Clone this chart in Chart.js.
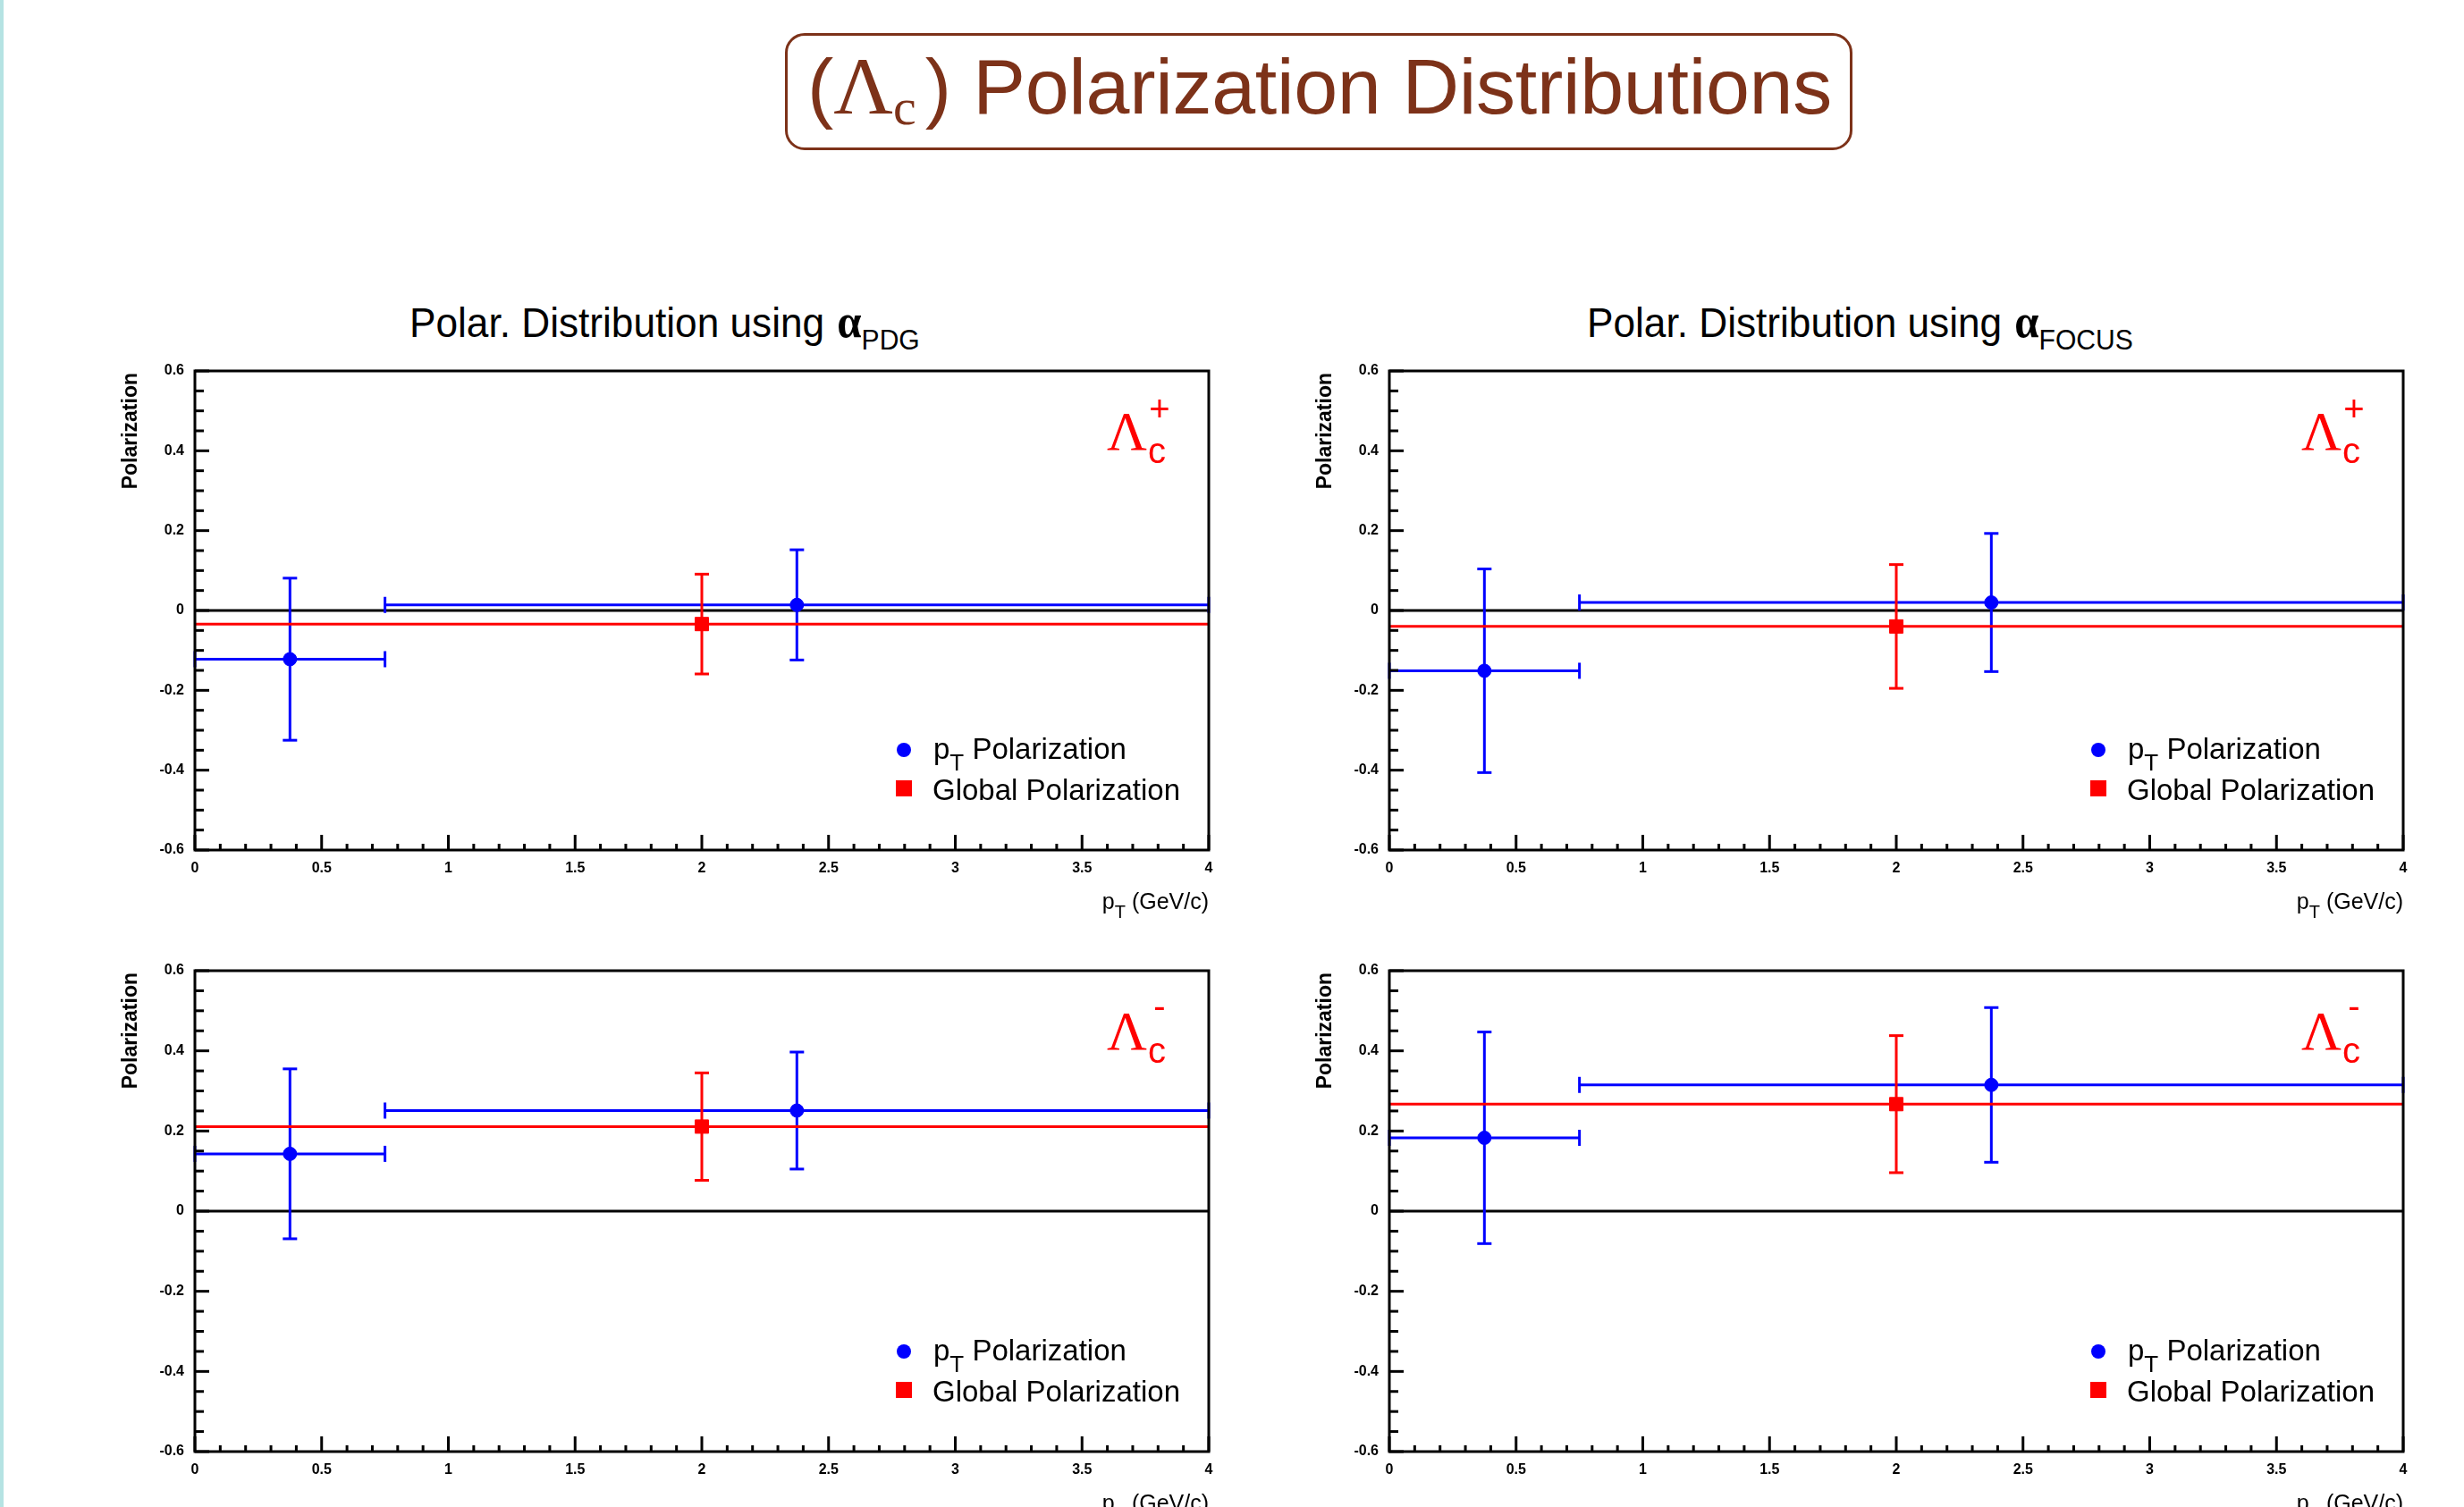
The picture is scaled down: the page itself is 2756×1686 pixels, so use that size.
<!DOCTYPE html>
<html>
<head>
<meta charset="utf-8">
<script src="https://cdn.jsdelivr.net/npm/chart.js@4.4.1/dist/chart.umd.min.js"></script>
<style>
html, body { margin: 0; padding: 0; background: #fff; }
body { width: 2756px; height: 1686px; position: relative; overflow: hidden;
       font-family: "Liberation Sans", Arial, sans-serif; }
#strip { position: absolute; left: 0; top: 0; width: 4px; height: 1686px; background: #b5e3e3; }
#titleBox { position: absolute; left: 878px; top: 37px; width: 1194px; height: 131px;
            box-sizing: border-box; border: 3px solid #7d3219; border-radius: 22px; }
#title { position: absolute; left: 903px; top: 52px; font-size: 88px; line-height: 88px;
         color: #7d3219; white-space: nowrap; }
#title .lam { font-family: "Liberation Serif", "Times New Roman", serif; font-size: 92px; }
#title .csub { font-family: "Liberation Serif", "Times New Roman", serif; font-size: 58px;
               position: relative; top: 12px; }
#title .close { margin-left: 10px; }
#title .words { letter-spacing: -0.3px; }
.sub { position: absolute; top: 336px; font-size: 47px; line-height: 47px; color: #000;
       white-space: nowrap; transform: scaleX(0.94); transform-origin: 0 0; }
.sub .alpha { font-family: "Liberation Serif", "Times New Roman", serif; font-size: 52px;
              font-weight: bold; margin-left: 2px; }
.sub .asub { font-size: 32px; position: relative; top: 14px; }
canvas { position: absolute; }
</style>
</head>
<body>
<div id="strip"></div>
<div id="titleBox"></div>
<div id="title"><span>(</span><span class="lam">Λ</span><span class="csub">c</span><span class="close">)</span><span class="words"> Polarization Distributions</span></div>
<div class="sub" style="left:458px"><span>Polar. Distribution using </span><span class="alpha">α</span><span class="asub">PDG</span></div>
<div class="sub" style="left:1775px"><span>Polar. Distribution using </span><span class="alpha">α</span><span class="asub">FOCUS</span></div>

<canvas id="pdgPlus" width="1274" height="646" style="left:108px;top:385px"></canvas>
<canvas id="focusPlus" width="1274" height="646" style="left:1444px;top:385px"></canvas>
<canvas id="pdgMinus" width="1274" height="648" style="left:108px;top:1056px"></canvas>
<canvas id="focusMinus" width="1274" height="648" style="left:1444px;top:1056px"></canvas>

<script>
// DATA

// pT bins (GeV/c)
const ptBinLow = [0, 0.75];
const ptBinHigh = [0.75, 4];
const ptBinCenter = [0.375, 2.375];
const globalPt = [2];

// alpha_PDG, Lambda_c+
const pdgPlusPol = [-0.122, 0.014];
const pdgPlusErr = [0.203, 0.138];
const pdgPlusGlobal = [-0.034];
const pdgPlusGlobalErr = [0.125];

// alpha_FOCUS, Lambda_c+
const focusPlusPol = [-0.151, 0.020];
const focusPlusErr = [0.255, 0.173];
const focusPlusGlobal = [-0.040];
const focusPlusGlobalErr = [0.155];

// alpha_PDG, Lambda_c-
const pdgMinusPol = [0.143, 0.251];
const pdgMinusErr = [0.212, 0.146];
const pdgMinusGlobal = [0.211];
const pdgMinusGlobalErr = [0.134];

// alpha_FOCUS, Lambda_c-
const focusMinusPol = [0.183, 0.315];
const focusMinusErr = [0.264, 0.193];
const focusMinusGlobal = [0.267];
const focusMinusGlobalErr = [0.171];

// axes
const xTicks = [0, 0.5, 1, 1.5, 2, 2.5, 3, 3.5, 4];
const xTickLabels = ["0", "0.5", "1", "1.5", "2", "2.5", "3", "3.5", "4"];
const yTicks = [-0.6, -0.4, -0.2, 0, 0.2, 0.4, 0.6];
const yTickLabels = ["-0.6", "-0.4", "-0.2", "0", "0.2", "0.4", "0.6"];
const legendLabels = ["p_T Polarization", "Global Polarization"];
const xTitle = "p_T (GeV/c)";
const yTitle = "Polarization";


// STYLE

const BLUE = "#0000ff";
const RED = "#ff0000";
const SANS = '"Liberation Sans", Arial, sans-serif';
const SERIF = '"Liberation Serif", "Times New Roman", serif';
const AXIS_W = 110, AXIS_H = 80, PAD_T = 30, PAD_R = 30;


// text with one-letter subscripts written as _X
function drawRich(ctx, text, x, y, size, align) {
    const parts = [];
    text.split(/(_\w)/).forEach(p => {
        if (!p) return;
        if (p[0] === "_") parts.push({ t: p.slice(1), sub: true });
        else parts.push({ t: p, sub: false });
    });
    const fontFor = sub => `${sub ? Math.round(size * 0.8) : size}px ${SANS}`;
    let w = 0;
    parts.forEach(p => {
        ctx.font = fontFor(p.sub);
        p.w = ctx.measureText(p.t).width;
        w += p.w;
    });
    let cx = align === "right" ? x - w : x;
    ctx.textAlign = "left";
    ctx.textBaseline = "alphabetic";
    parts.forEach(p => {
        ctx.font = fontFor(p.sub);
        ctx.fillText(p.t, cx, y + (p.sub ? size * 0.38 : 0));
        cx += p.w;
    });
}

function seg(ctx, x1, y1, x2, y2) {
    ctx.beginPath();
    ctx.moveTo(x1, y1);
    ctx.lineTo(x2, y2);
    ctx.stroke();
}


// ROOT-LIKE PAD: zero line, error bars, frame, inner ticks, labels

const rootPad = {
    id: "rootPad",
    beforeDatasetsDraw(chart) {
        const { ctx, chartArea: a, scales: { x, y } } = chart;
        ctx.save();
        ctx.lineWidth = 3;
        ctx.strokeStyle = "#000";
        const y0 = y.getPixelForValue(0);
        seg(ctx, a.left, y0, a.right, y0);

        chart.data.datasets.forEach(ds => {
            if (!ds.yErr) return;
            ctx.strokeStyle = ds.borderColor;
            ds.data.forEach((p, i) => {
                const px = x.getPixelForValue(p.x);
                const py = y.getPixelForValue(p.y);
                const top = y.getPixelForValue(p.y + ds.yErr[i]);
                const bot = y.getPixelForValue(p.y - ds.yErr[i]);
                seg(ctx, px, top, px, bot);
                seg(ctx, px - 8, top, px + 8, top);
                seg(ctx, px - 8, bot, px + 8, bot);
                if (ds.xLow) {
                    const xl = x.getPixelForValue(ds.xLow[i]);
                    const xh = x.getPixelForValue(ds.xHigh[i]);
                    seg(ctx, xl, py, xh, py);
                    seg(ctx, xl, py - 9, xl, py + 9);
                    seg(ctx, xh, py - 9, xh, py + 9);
                }
            });
        });
        ctx.restore();
    },
    afterDraw(chart, args, opts) {
        const { ctx, chartArea: a, scales: { x, y } } = chart;
        ctx.save();
        ctx.strokeStyle = "#000";
        ctx.fillStyle = "#000";
        ctx.lineWidth = 3;
        ctx.strokeRect(a.left, a.top, a.right - a.left, a.bottom - a.top);

        // inner ticks
        for (let i = 0; i <= 40; i++) {
            const px = x.getPixelForValue(i * 0.1);
            seg(ctx, px, a.bottom, px, a.bottom - (i % 5 === 0 ? 17 : 7));
        }
        for (let i = -12; i <= 12; i++) {
            const py = y.getPixelForValue(i * 0.05);
            seg(ctx, a.left, py, a.left + (i % 4 === 0 ? 16 : 10), py);
        }

        // axis titles
        drawRich(ctx, xTitle, a.right, a.bottom + 66, 25, "right");
        ctx.save();
        ctx.translate(a.left - 65, a.top + 2);
        ctx.rotate(-Math.PI / 2);
        ctx.font = `bold 23px ${SANS}`;
        ctx.textAlign = "right";
        ctx.textBaseline = "alphabetic";
        ctx.fillText(yTitle, 0, 0);
        ctx.restore();

        // legend
        const lx = a.right - 341;
        const r1 = a.bottom - 112, r2 = a.bottom - 69;
        ctx.fillStyle = BLUE;
        ctx.beginPath();
        ctx.arc(lx, r1, 8, 0, Math.PI * 2);
        ctx.fill();
        ctx.fillStyle = RED;
        ctx.fillRect(lx - 9, r2 - 9, 18, 18);
        ctx.fillStyle = "#000";
        drawRich(ctx, legendLabels[0], a.right - 308, r1 + 10, 33, "left");
        drawRich(ctx, legendLabels[1], a.right - 309, r2 + 13, 33, "left");

        // Lambda_c label
        ctx.fillStyle = RED;
        ctx.textAlign = "left";
        ctx.textBaseline = "alphabetic";
        ctx.font = `62px ${SERIF}`;
        ctx.fillText("Λ", a.right - 114, a.top + 88);
        ctx.font = `40px ${SANS}`;
        ctx.fillText("c", a.right - 68, a.top + 103);
        ctx.textAlign = "center";
        ctx.textBaseline = "middle";
        ctx.fillText(opts.charge, a.right - 55, a.top + (opts.charge === "+" ? 45 : 42));
        ctx.restore();
    }
};


// PANELS

function makePanel(id, pol, err, glob, globErr, charge) {
    const tickFont = { family: SANS, size: 16, weight: "bold" };
    return new Chart(document.getElementById(id), {
        type: "scatter",
        data: {
            datasets: [
                {
                    label: legendLabels[0],
                    data: ptBinCenter.map((v, i) => ({ x: v, y: pol[i] })),
                    xLow: ptBinLow, xHigh: ptBinHigh, yErr: err,
                    backgroundColor: BLUE, borderColor: BLUE,
                    pointStyle: "circle", pointRadius: 7.5, order: 0
                },
                {
                    label: legendLabels[1],
                    data: globalPt.map((v, i) => ({ x: v, y: glob[i] })),
                    yErr: globErr,
                    backgroundColor: RED, borderColor: RED,
                    pointStyle: "rect", pointRadius: 10.6, order: 1
                },
                {
                    label: "global",
                    data: [{ x: xTicks[0], y: glob[0] }, { x: xTicks[xTicks.length - 1], y: glob[0] }],
                    showLine: true, borderColor: RED, borderWidth: 3,
                    pointRadius: 0, order: 2
                }
            ]
        },
        options: {
            responsive: false,
            animation: false,
            events: [],
            layout: { padding: { left: 0, top: PAD_T, right: PAD_R, bottom: 0 } },
            plugins: {
                legend: { display: false },
                tooltip: { enabled: false },
                rootPad: { charge: charge }
            },
            scales: {
                x: {
                    type: "linear",
                    min: xTicks[0], max: xTicks[xTicks.length - 1],
                    afterFit: s => { s.height = AXIS_H; },
                    afterBuildTicks: s => { s.ticks = xTicks.map(v => ({ value: v })); },
                    ticks: {
                        callback: (v, i) => xTickLabels[i],
                        font: tickFont, color: "#000", padding: 11,
                        maxRotation: 0, autoSkip: false
                    },
                    grid: { display: false, drawTicks: false },
                    border: { display: false }
                },
                y: {
                    min: yTicks[0], max: yTicks[yTicks.length - 1],
                    afterFit: s => { s.width = AXIS_W; },
                    afterBuildTicks: s => { s.ticks = yTicks.map(v => ({ value: v })); },
                    ticks: {
                        callback: (v, i) => yTickLabels[i],
                        font: tickFont, color: "#000", padding: 12, autoSkip: false
                    },
                    grid: { display: false, drawTicks: false },
                    border: { display: false }
                }
            }
        },
        plugins: [rootPad]
    });
}

makePanel("pdgPlus", pdgPlusPol, pdgPlusErr, pdgPlusGlobal, pdgPlusGlobalErr, "+");
makePanel("focusPlus", focusPlusPol, focusPlusErr, focusPlusGlobal, focusPlusGlobalErr, "+");
makePanel("pdgMinus", pdgMinusPol, pdgMinusErr, pdgMinusGlobal, pdgMinusGlobalErr, "-");
makePanel("focusMinus", focusMinusPol, focusMinusErr, focusMinusGlobal, focusMinusGlobalErr, "-");
</script>
</body>
</html>
